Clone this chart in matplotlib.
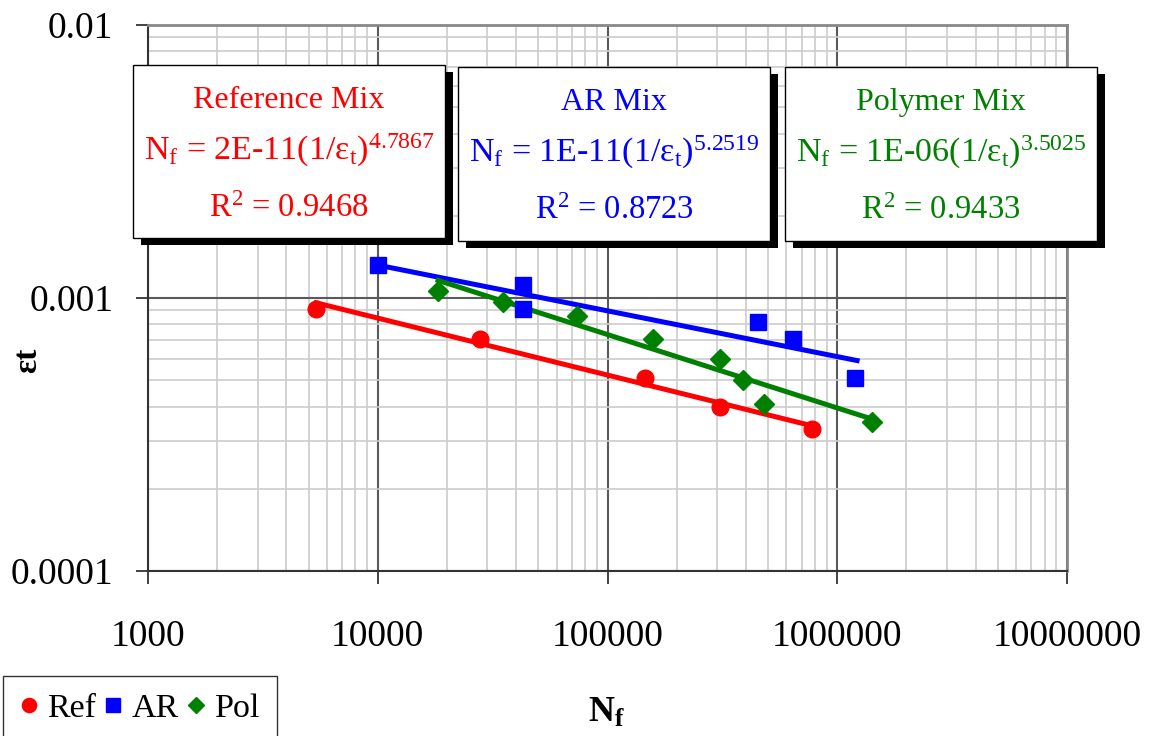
import numpy as np
import matplotlib
matplotlib.use('Agg')
import matplotlib.pyplot as plt
from matplotlib.patches import Rectangle
from matplotlib.ticker import LogLocator, NullFormatter

plt.rcParams['font.family'] = ['Liberation Serif', 'DejaVu Serif']
plt.rcParams['mathtext.fontset'] = 'custom'
plt.rcParams['mathtext.rm'] = 'Liberation Serif'
plt.rcParams['mathtext.it'] = 'Liberation Serif:italic'
plt.rcParams['mathtext.bf'] = 'Liberation Serif:bold'

# data
ref_n = [5400, 28000, 145000, 310000, 780000]
ref_eps = [0.00091, 0.00071, 0.00051, 0.00040, 0.00033]
ar_n = [10000, 43000, 43000, 450000, 640000, 1190000]
ar_eps = [0.00132, 0.00112, 0.00091, 0.00082, 0.00071, 0.00051]
pol_n = [18300, 35000, 73600, 158000, 309000, 389000, 480000, 1420000]
pol_eps = [0.00106, 0.00097, 0.00086, 0.00071, 0.00060, 0.00050, 0.00041, 0.00035]

# trend line end points
ref_fit_n = [5400, 780000]
ref_fit_eps = [0.00096, 0.00034]
ar_fit_n = [10000, 1220000]
ar_fit_eps = [0.00132, 0.00059]
pol_fit_n = [18300, 1420000]
pol_fit_eps = [0.00116, 0.00036]

x_ticks = [1000, 10000, 100000, 1000000, 10000000]
x_labels = ['1000', '10000', '100000', '1000000', '10000000']
y_ticks = [0.0001, 0.001, 0.01]
y_labels = ['0.0001', '0.001', '0.01']

titles = ['Reference Mix', 'AR Mix', 'Polymer Mix']
equations = [r'N$_\mathrm{f}$ = 2E-11(1/ε$_\mathrm{t}$)$^\mathrm{4.7867}$',
             r'N$_\mathrm{f}$ = 1E-11(1/ε$_\mathrm{t}$)$^\mathrm{5.2519}$',
             r'N$_\mathrm{f}$ = 1E-06(1/ε$_\mathrm{t}$)$^\mathrm{3.5025}$']
r2_texts = [r'R$^\mathrm{2}$ = 0.9468', r'R$^\mathrm{2}$ = 0.8723', r'R$^\mathrm{2}$ = 0.9433']
colors = ['#ff0000', '#0000ff', '#008000']

W, H = 1156, 736
fig = plt.figure(figsize=(W / 100, H / 100), dpi=100)
ax = fig.add_axes([148 / W, 1 - 571 / H, (1067 - 148) / W, (571 - 25) / H])

ax.set_xscale('log')
ax.set_yscale('log')
ax.set_xlim(1000, 10000000)
ax.set_ylim(0.0001, 0.01)

ax.xaxis.set_minor_locator(LogLocator(base=10, subs=np.arange(2, 10)))
ax.yaxis.set_minor_locator(LogLocator(base=10, subs=np.arange(2, 10)))
ax.xaxis.set_minor_formatter(NullFormatter())
ax.yaxis.set_minor_formatter(NullFormatter())
ax.grid(True, which='minor', color='#cccccc', linewidth=1.2)
ax.grid(True, which='major', color='#5a5a5a', linewidth=1.5)
ax.set_axisbelow(True)

ax.set_xticks(x_ticks, x_labels)
ax.set_yticks(y_ticks, y_labels)
ax.tick_params(which='major', direction='out', length=9, width=1.2, color='#222222')
ax.tick_params(axis='x', which='major', labelsize=27, pad=26)
ax.tick_params(axis='y', which='major', labelsize=27, pad=16)
ax.tick_params(which='minor', length=0)

for side in ['left', 'bottom']:
    ax.spines[side].set_color('#333333')
    ax.spines[side].set_linewidth(1.5)
for side in ['top', 'right']:
    ax.spines[side].set_color('#888888')
    ax.spines[side].set_linewidth(2)

ax.plot(ref_fit_n, ref_fit_eps, color=colors[0], linewidth=3.6)
ax.plot(ar_fit_n, ar_fit_eps, color=colors[1], linewidth=3.6)
ax.plot(pol_fit_n, pol_fit_eps, color=colors[2], linewidth=3.6)

ax.plot(ref_n, ref_eps, 'o', color=colors[0], markersize=12, label='Ref', zorder=4)
ax.plot(ar_n, ar_eps, 's', color=colors[1], markersize=12, label='AR', zorder=4)
ax.plot(pol_n, pol_eps, 'D', color=colors[2], markersize=10, label='Pol', zorder=4)


def fx(px):
    return px / W


def fy(py):
    return 1 - py / H


# equation boxes with shadows
boxes = [(133, 65, 445, 238), (458, 67, 770, 241), (785, 67, 1097, 241)]
for i, (x0, y0, x1, y1) in enumerate(boxes):
    shadow = Rectangle((fx(x0 + 8), fy(y1 + 7)), fx(x1 - x0), (y1 - y0) / H,
                       transform=fig.transFigure, facecolor='black', edgecolor='none', zorder=5)
    box = Rectangle((fx(x0), fy(y1)), fx(x1 - x0), (y1 - y0) / H,
                    transform=fig.transFigure, facecolor='white', edgecolor='black',
                    linewidth=1, zorder=6)
    fig.add_artist(shadow)
    fig.add_artist(box)
    cx = fx((x0 + x1) / 2)
    off = y0 - 65
    fig.text(cx, fy(108 + off), titles[i], color=colors[i], fontsize=23,
             ha='center', va='baseline', zorder=7)
    fig.text(cx, fy(160 + off), equations[i], color=colors[i], fontsize=24.5,
             ha='center', va='baseline', zorder=7)
    fig.text(cx, fy(217 + off), r2_texts[i], color=colors[i], fontsize=23.5,
             ha='center', va='baseline', zorder=7)

# axis titles
fig.text(fx(28), fy(360), 'εt', fontsize=24, fontweight='bold', rotation=90,
         ha='center', va='center')
fig.text(fx(607), fy(713), r'N$_\mathbf{f}$', fontsize=26, fontweight='bold',
         ha='center', va='center')

leg = fig.legend(loc='upper left', bbox_to_anchor=(fx(3), fy(676)), ncol=3,
                 fontsize=24.5, frameon=True, fancybox=False, edgecolor='black',
                 handlelength=0.5, handletextpad=0.3, columnspacing=0.25,
                 borderpad=0.5, borderaxespad=0, markerscale=0.85)
leg.get_frame().set_linewidth(1)

fig.savefig('out.png', dpi=100)
